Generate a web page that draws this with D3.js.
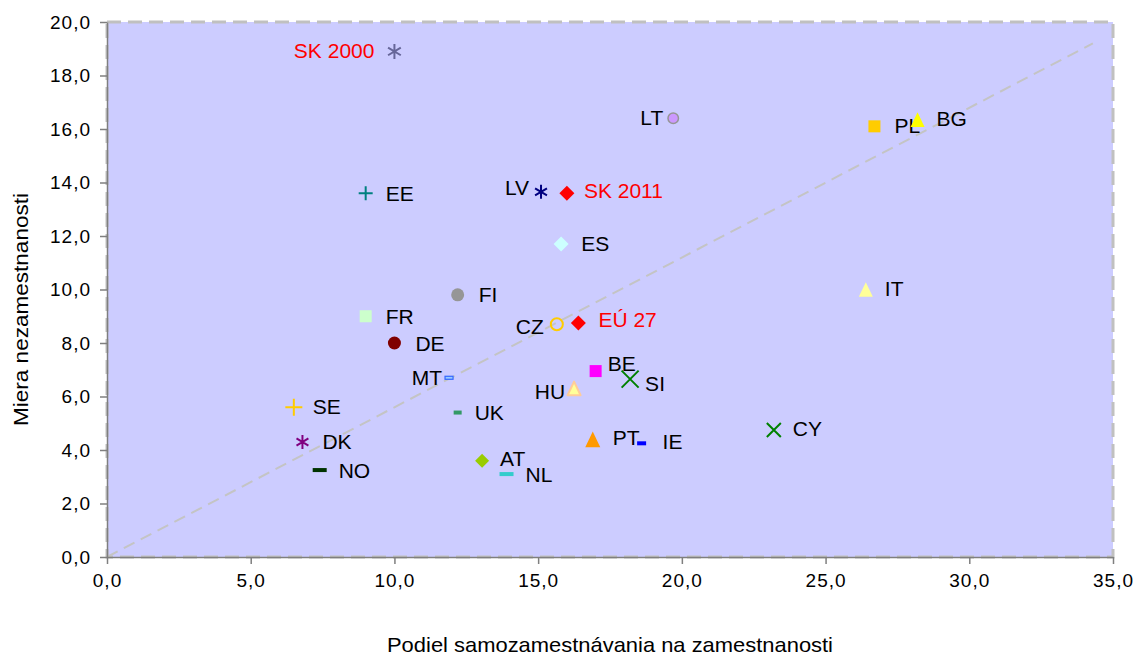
<!doctype html>
<html>
<head>
<meta charset="utf-8">
<title>Samozamestnanost a nezamestnanost</title>
<script src="https://cdn.jsdelivr.net/npm/d3@7"></script>
<style>
  body { margin: 0; background: #fff; }
  text { font-family: "Liberation Sans", Arial, sans-serif; }
</style>
</head>
<body>
<div id="chart"></div>
<script>
// data
var countries = ["SK 2000", "LT", "EE", "LV", "SK 2011", "ES", "PL", "BG", "IT", "FI",
                 "FR", "DE", "CZ", "EÚ 27", "MT", "BE", "SI", "HU", "SE", "UK",
                 "DK", "PT", "IE", "NO", "AT", "NL", "CY"];
var selfEmployment = [10.0, 19.7, 9.0, 15.1, 16.0, 15.8, 26.7, 28.2, 26.4, 12.2,
                      9.0, 10.0, 15.65, 16.4, 11.9, 17.0, 18.2, 16.25, 6.5, 12.2,
                      6.8, 16.9, 18.6, 7.4, 13.05, 13.9, 23.2];
var unemployment = [18.9, 16.4, 13.6, 13.65, 13.6, 11.7, 16.1, 16.35, 10.0, 9.8,
                    9.0, 8.0, 8.7, 8.75, 6.7, 6.95, 6.65, 6.3, 5.6, 5.4,
                    4.3, 4.4, 4.25, 3.25, 3.6, 3.1, 4.75];
var highlighted = ["SK 2000", "SK 2011", "EÚ 27"];

var xTickValues = [0, 5, 10, 15, 20, 25, 30, 35];
var yTickValues = [0, 2, 4, 6, 8, 10, 12, 14, 16, 18, 20];

// trend line endpoints
var trendX = [0, 34.3];
var trendY = [0, 19.2];

var xTitle = "Podiel samozamestnávania na zamestnanosti";
var yTitle = "Miera nezamestnanosti";

// marker look per country (Excel-like marker set)
var markerStyle = {
  "SK 2000": {shape: "star",    color: "#666699", size: 15},
  "LT":      {shape: "circle",  color: "#cc99ff", stroke: "#969696", size: 12},
  "EE":      {shape: "plus",    color: "#008080", size: 14},
  "LV":      {shape: "star",    color: "#000080", size: 14},
  "SK 2011": {shape: "diamond", color: "#ff0000", size: 15},
  "ES":      {shape: "diamond", color: "#ccffff", size: 15},
  "PL":      {shape: "square",  color: "#ffcc00", size: 12},
  "BG":      {shape: "triangle",color: "#ffff00", size: 14},
  "IT":      {shape: "triangle",color: "#ffff99", size: 14},
  "FI":      {shape: "circle",  color: "#969696", size: 13},
  "FR":      {shape: "square",  color: "#ccffcc", size: 12},
  "DE":      {shape: "circle",  color: "#800000", size: 13},
  "CZ":      {shape: "ring",    color: "#ffcc00", size: 14},
  "EÚ 27":   {shape: "diamond", color: "#ff0000", size: 15},
  "MT":      {shape: "dashbox", color: "#99ccff", stroke: "#3366ff", size: 8},
  "BE":      {shape: "square",  color: "#ff00ff", size: 12},
  "SI":      {shape: "cross",   color: "#008000", size: 17},
  "HU":      {shape: "triangle",color: "#ffff99", stroke: "#ffcc99", size: 13},
  "SE":      {shape: "plus",    color: "#ffcc00", size: 17},
  "UK":      {shape: "dash",    color: "#339966", size: 8},
  "DK":      {shape: "star",    color: "#800080", size: 14},
  "PT":      {shape: "triangle",color: "#ff9900", size: 15},
  "IE":      {shape: "dash",    color: "#0000ff", size: 9},
  "NO":      {shape: "dash",    color: "#003300", size: 14},
  "AT":      {shape: "diamond", color: "#99cc00", size: 14},
  "NL":      {shape: "dash",    color: "#33cccc", size: 14},
  "CY":      {shape: "cross",   color: "#008000", size: 14}
};

// label placement relative to marker: [dx, dy, anchor]
var labelOffset = {
  "SK 2000": [-20, -1, "end"], "LT": [-10, -1, "end"], "EE": [20, 0, "start"],
  "LV": [-12, -4, "end"], "SK 2011": [17, -3, "start"], "ES": [20, -1, "start"],
  "PL": [20, -1, "start"], "BG": [19, -1, "start"], "IT": [19, -1, "start"],
  "FI": [21, 0, "start"], "FR": [20, 0, "start"], "DE": [21, 0, "start"],
  "CZ": [-13, 2, "end"], "EÚ 27": [20, -3, "start"], "MT": [-7, 0, "end"],
  "BE": [12, -8, "start"], "SI": [15, 4, "start"], "HU": [-9, 3, "end"],
  "SE": [19, -1, "start"], "UK": [17, 0, "start"], "DK": [20, 0, "start"],
  "PT": [20, -2, "start"], "IE": [21, -2, "start"], "NO": [19, 0, "start"],
  "AT": [18, -2, "start"], "NL": [19, 0, "start"], "CY": [19, -1, "start"]
};

var W = 1137, H = 657;
var margin = {top: 22, right: 24, bottom: 100, left: 107};
var width = W - margin.left - margin.right,
    height = H - margin.top - margin.bottom;

var svg = d3.select("#chart").append("svg")
    .attr("width", W)
    .attr("height", H);

var g = svg.append("g")
    .attr("transform", "translate(" + margin.left + "," + margin.top + ")");

var x = d3.scaleLinear().domain([0, 35]).range([0, width]);
var y = d3.scaleLinear().domain([0, 20]).range([height, 0]);

var locale = d3.formatLocale({decimal: ",", thousands: " ", grouping: [3], currency: ["", " €"]});
var fmt = locale.format(".1f");

// plot area
g.append("rect")
    .attr("width", width)
    .attr("height", height)
    .attr("fill", "#ccccff")
    .attr("stroke", "#c0c0c0")
    .attr("stroke-width", 3)
    .attr("stroke-dasharray", "14,7");

// trend line
g.append("line")
    .attr("x1", x(trendX[0])).attr("y1", y(trendY[0]))
    .attr("x2", x(trendX[1])).attr("y2", y(trendY[1]))
    .attr("stroke", "#c4c4c4")
    .attr("stroke-width", 2)
    .attr("stroke-dasharray", "12,7");

// axes
var xAxis = g.append("g")
    .attr("transform", "translate(0," + height + ")")
    .call(d3.axisBottom(x).tickValues(xTickValues).tickFormat(fmt).tickSize(7).tickSizeOuter(0).tickPadding(10));
var yAxis = g.append("g")
    .call(d3.axisLeft(y).tickValues(yTickValues).tickFormat(fmt).tickSize(7).tickSizeOuter(0).tickPadding(9));

[xAxis, yAxis].forEach(function(a) {
  a.select(".domain").attr("stroke", "#7f7f7f").attr("stroke-width", 1.5);
  a.selectAll(".tick line").attr("stroke", "#7f7f7f").attr("stroke-width", 1.5);
  a.selectAll(".tick text")
      .attr("fill", "#000")
      .style("font-size", "19px")
      .style("letter-spacing", "1px")
      .style("font-family", "'Liberation Sans', Arial, sans-serif");
});

// axis titles
svg.append("text")
    .attr("x", margin.left + width / 2)
    .attr("y", 652)
    .attr("text-anchor", "middle")
    .attr("textLength", 446)
    .attr("lengthAdjust", "spacingAndGlyphs")
    .style("font-size", "21px")
    .text(xTitle);

svg.append("text")
    .attr("transform", "translate(28," + (margin.top + height / 2 + 20) + ") rotate(-90)")
    .attr("text-anchor", "middle")
    .attr("textLength", 233)
    .attr("lengthAdjust", "spacingAndGlyphs")
    .style("font-size", "21px")
    .text(yTitle);

// marker shapes
function drawMarker(sel, st) {
  var s = st.size, h = s / 2;
  if (st.shape === "circle") {
    sel.append("circle").attr("r", h - (st.stroke ? 0.75 : 0))
        .attr("fill", st.color)
        .attr("stroke", st.stroke || "none").attr("stroke-width", 1.5);
  } else if (st.shape === "ring") {
    sel.append("circle").attr("r", h - 1).attr("fill", "none")
        .attr("stroke", st.color).attr("stroke-width", 2);
  } else if (st.shape === "square") {
    sel.append("rect").attr("x", -h).attr("y", -h).attr("width", s).attr("height", s)
        .attr("fill", st.color);
  } else if (st.shape === "diamond") {
    sel.append("path").attr("d", "M0," + (-h) + "L" + h + ",0L0," + h + "L" + (-h) + ",0Z")
        .attr("fill", st.color);
  } else if (st.shape === "triangle") {
    var th = s * 1.05;
    sel.append("path").attr("d", "M0," + (-th / 2) + "L" + h + "," + (th / 2) + "L" + (-h) + "," + (th / 2) + "Z")
        .attr("fill", st.color)
        .attr("stroke", st.stroke || "none").attr("stroke-width", 2)
        .attr("stroke-linejoin", "round");
  } else if (st.shape === "plus") {
    sel.append("path").attr("d", "M" + (-h) + ",0H" + h + "M0," + (-h) + "V" + h)
        .attr("stroke", st.color).attr("stroke-width", 2).attr("fill", "none");
  } else if (st.shape === "cross") {
    sel.append("path").attr("d", "M" + (-h) + "," + (-h) + "L" + h + "," + h + "M" + h + "," + (-h) + "L" + (-h) + "," + h)
        .attr("stroke", st.color).attr("stroke-width", 2).attr("fill", "none");
  } else if (st.shape === "star") {
    var d = h * 0.85;
    sel.append("path").attr("d", "M0," + (-h) + "V" + h +
          "M" + (-d) + "," + (-d * 0.6) + "L" + d + "," + (d * 0.6) +
          "M" + d + "," + (-d * 0.6) + "L" + (-d) + "," + (d * 0.6))
        .attr("stroke", st.color).attr("stroke-width", 2).attr("fill", "none");
  } else if (st.shape === "dash") {
    sel.append("rect").attr("x", -h).attr("y", -2).attr("width", s).attr("height", 4)
        .attr("fill", st.color);
  } else if (st.shape === "dashbox") {
    sel.append("rect").attr("x", -h).attr("y", -1.5).attr("width", s).attr("height", 3)
        .attr("fill", st.color).attr("stroke", st.stroke).attr("stroke-width", 1.2);
  }
}

var points = countries.map(function(c, i) {
  return {name: c, x: selfEmployment[i], y: unemployment[i]};
});

var pt = g.selectAll(".pt")
    .data(points)
    .enter().append("g")
    .attr("class", "pt")
    .attr("transform", function(d) { return "translate(" + x(d.x) + "," + y(d.y) + ")"; });

pt.each(function(d) { drawMarker(d3.select(this), markerStyle[d.name]); });

pt.append("text")
    .attr("x", function(d) { return labelOffset[d.name][0]; })
    .attr("y", function(d) { return labelOffset[d.name][1] + 7.5; })
    .attr("text-anchor", function(d) { return labelOffset[d.name][2]; })
    .attr("fill", function(d) { return highlighted.indexOf(d.name) >= 0 ? "#ff0000" : "#000"; })
    .style("font-size", "21px")
    .text(function(d) { return d.name; });
</script>
</body>
</html>
